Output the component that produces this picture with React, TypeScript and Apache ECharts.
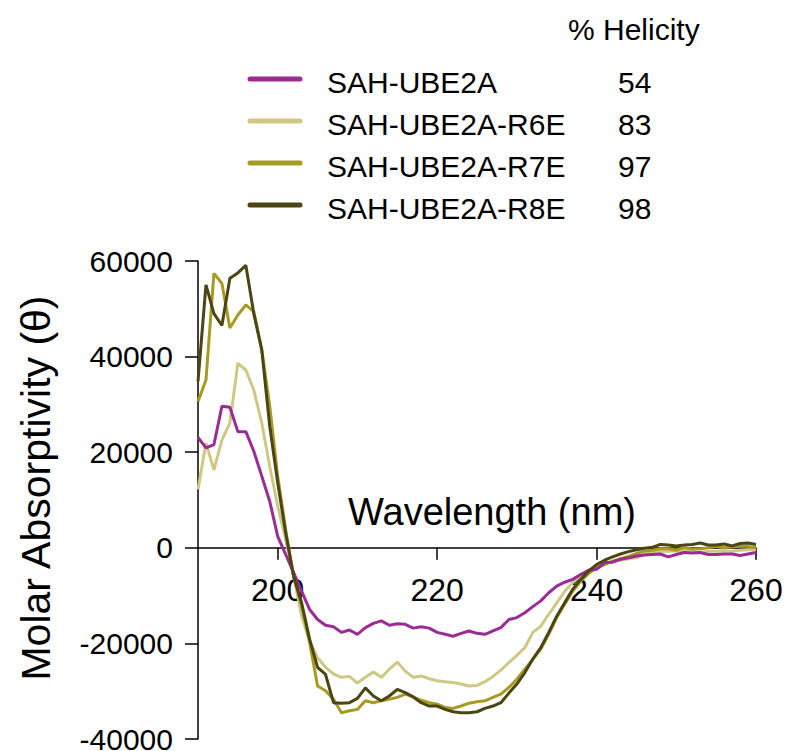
import React, { useEffect, useRef } from "react";
import * as echarts from "echarts";

const wavelengths = [
  190, 191, 192, 193, 194, 195, 196, 197, 198, 199,
  200, 201, 202, 203, 204, 205, 206, 207, 208, 209,
  210, 211, 212, 213, 214, 215, 216, 217, 218, 219,
  220, 221, 222, 223, 224, 225, 226, 227, 228, 229,
  230, 231, 232, 233, 234, 235, 236, 237, 238, 239,
  240, 241, 242, 243, 244, 245, 246, 247, 248, 249,
  250, 251, 252, 253, 254, 255, 256, 257, 258, 259, 260,
];

const sahUBE2A = [
  23100, 20900, 21600, 29600, 29400, 24300, 24300, 20200, 15000, 9700,
  2400, -1400, -5200, -9100, -12900, -15000, -16200, -16500, -17700, -17200,
  -18100, -16700, -15800, -15300, -16200, -15900, -16000, -16800, -16500, -16800,
  -17700, -18100, -18500, -17900, -17400, -17900, -18100, -17400, -16700, -15000,
  -14600, -13600, -12300, -11100, -9400, -8000, -7200, -6600, -5600, -4700,
  -4500, -3100, -3000, -2400, -2100, -1700, -1500, -1400, -1300, -1900,
  -1400, -1000, -1100, -1000, -1400, -1400, -1300, -1300, -1600, -1300, -1000,
];

const sahR6E = [
  12200, 21900, 16300, 22600, 26100, 38600, 37200, 33000, 26100, 17000,
  8700, 1700, -6000, -14300, -19500, -23000, -25000, -26400, -27100, -26900,
  -28300, -27100, -26000, -27100, -25400, -23900, -25800, -27100, -26800, -27400,
  -27800, -28000, -28200, -28500, -28900, -28800, -28000, -26900, -25600, -24000,
  -22500, -20900, -17700, -16400, -13900, -11500, -9100, -7300, -5800, -4700,
  -3800, -3300, -2800, -2600, -2300, -2100, -1400, -1000, -700, -700,
  -600, -700, -900, -1000, -700, -700, -600, -700, -500, -400, -400,
];

const sahR7E = [
  30600, 35100, 57400, 55300, 46000, 48700, 50800, 49400, 41400, 29600,
  15000, 3800, -6000, -12200, -19800, -28900, -29900, -31700, -34500, -34100,
  -33800, -32000, -32400, -32000, -31700, -31300, -30600, -31200, -31900, -32400,
  -32700, -33400, -33600, -33100, -32500, -32200, -32000, -31300, -30600, -29200,
  -27500, -25400, -23300, -21200, -18100, -14600, -11800, -9100, -7000, -5400,
  -4200, -3500, -2800, -2300, -1800, -1200, -700, -500, -200, -200,
  -500, 0, -300, -200, 0, 300, 0, 200, 300, 300, 0,
];

const sahR8E = [
  34800, 55000, 49000, 46500, 56400, 57500, 59100, 49000, 41400, 25400,
  13600, 3100, -6000, -11500, -19100, -25000, -26500, -32400, -32500, -32400,
  -31500, -29300, -31000, -32000, -31000, -29600, -30300, -31200, -32400, -33100,
  -33100, -33800, -34300, -34500, -34500, -34300, -33600, -33100, -32400, -30400,
  -28500, -26100, -23300, -20900, -17700, -14300, -11500, -8700, -6600, -4900,
  -3500, -2600, -1900, -1300, -800, -400, -100, 100, 700, 600,
  400, 600, 700, 1000, 600, 600, 800, 400, 900, 1000, 700,
];

const seriesNames = ["SAH-UBE2A", "SAH-UBE2A-R6E", "SAH-UBE2A-R7E", "SAH-UBE2A-R8E"];
const helicity = ["54", "83", "97", "98"];
const colors = ["#9b2c96", "#cfc885", "#a69b22", "#4a4513"];
const xTicks = [200, 220, 240, 260];
const yMin = -40000;
const yMax = 60000;
const yInterval = 20000;

const FONT = "'Liberation Sans', Arial, Helvetica, sans-serif";

export default function App() {
  const ref = useRef<HTMLDivElement>(null);

  useEffect(() => {
    if (!ref.current) return;
    const chart = echarts.init(ref.current, undefined, { renderer: "svg" });
    const values = [sahUBE2A, sahR6E, sahR7E, sahR8E];

    const gridTop = 261;
    const gridBottom = 12;
    const gridH = 751 - gridTop - gridBottom;
    const zeroY = gridTop + gridH * (yMax / (yMax - yMin));
    const xOffset = -(751 - gridBottom - zeroY);

    const legendItems: any[] = [];
    legendItems.push({
      type: "text",
      x: 568,
      y: 29,
      style: {
        text: "% Helicity",
        font: `30px ${FONT}`,
        fill: "#000",
        textVerticalAlign: "middle",
        textAlign: "left",
      },
    });
    seriesNames.forEach((name, i) => {
      const ly = 79 + i * 42;
      legendItems.push({
        type: "line",
        shape: { x1: 250, y1: ly, x2: 300, y2: ly },
        style: { stroke: colors[i], lineWidth: 5, lineCap: "round" },
      });
      legendItems.push({
        type: "text",
        x: 327,
        y: ly + 3,
        style: {
          text: name,
          font: `30px ${FONT}`,
          fill: "#000",
          textVerticalAlign: "middle",
          textAlign: "left",
        },
      });
      legendItems.push({
        type: "text",
        x: 618,
        y: ly + 3,
        style: {
          text: helicity[i],
          font: `30px ${FONT}`,
          fill: "#000",
          textVerticalAlign: "middle",
          textAlign: "left",
        },
      });
    });

    const option: any = {
      animation: false,
      backgroundColor: "#ffffff",
      grid: { left: 198, right: 31, top: gridTop, bottom: gridBottom, containLabel: false, outerBoundsMode: "none" },
      xAxis: {
        type: "value",
        min: 190,
        max: 260,
        position: "bottom",
        offset: xOffset,
        axisLine: { onZero: false, lineStyle: { color: "#000", width: 1.5 } },
        axisTick: {
          show: true,
          length: 12,
          inside: false,
          customValues: xTicks,
          lineStyle: { color: "#000", width: 1.5 },
        },
        axisLabel: {
          customValues: xTicks,
          margin: 26,
          fontSize: 32,
          color: "#000",
          fontFamily: FONT,
          formatter: (v: number) => String(v),
        },
        splitLine: { show: false },
      },
      yAxis: {
        type: "value",
        min: yMin,
        max: yMax,
        interval: yInterval,
        axisLine: { show: true, onZero: false, lineStyle: { color: "#000", width: 1.5 } },
        axisTick: { show: true, length: 13, lineStyle: { color: "#000", width: 1.5 } },
        axisLabel: {
          margin: 25,
          fontSize: 30,
          color: "#000",
          fontFamily: FONT,
          formatter: (v: number) => String(v),
        },
        splitLine: { show: false },
      },
      graphic: [
        {
          type: "text",
          x: 492,
          y: 512,
          style: {
            text: "Wavelength (nm)",
            font: `38px ${FONT}`,
            fill: "#000",
            textAlign: "center",
            textVerticalAlign: "middle",
          },
        },
        {
          type: "text",
          x: 36,
          y: 488,
          rotation: Math.PI / 2,
          style: {
            text: "Molar Absorptivity (θ)",
            font: `41px ${FONT}`,
            fill: "#000",
            textAlign: "center",
            textVerticalAlign: "middle",
          },
        },
        ...legendItems,
      ],
      series: seriesNames.map((name, i) => ({
        name,
        type: "line",
        data: wavelengths.map((w, j) => [w, values[i][j]]),
        showSymbol: false,
        symbol: "none",
        lineStyle: { color: colors[i], width: 3 },
        itemStyle: { color: colors[i] },
        z: i === 0 ? 5 : 2 + i,
      })),
    };
    chart.setOption(option);
    return () => chart.dispose();
  }, []);

  return (
    <div
      ref={ref}
      style={{ position: "absolute", left: 0, top: 0, width: 787, height: 751 }}
    />
  );
}
